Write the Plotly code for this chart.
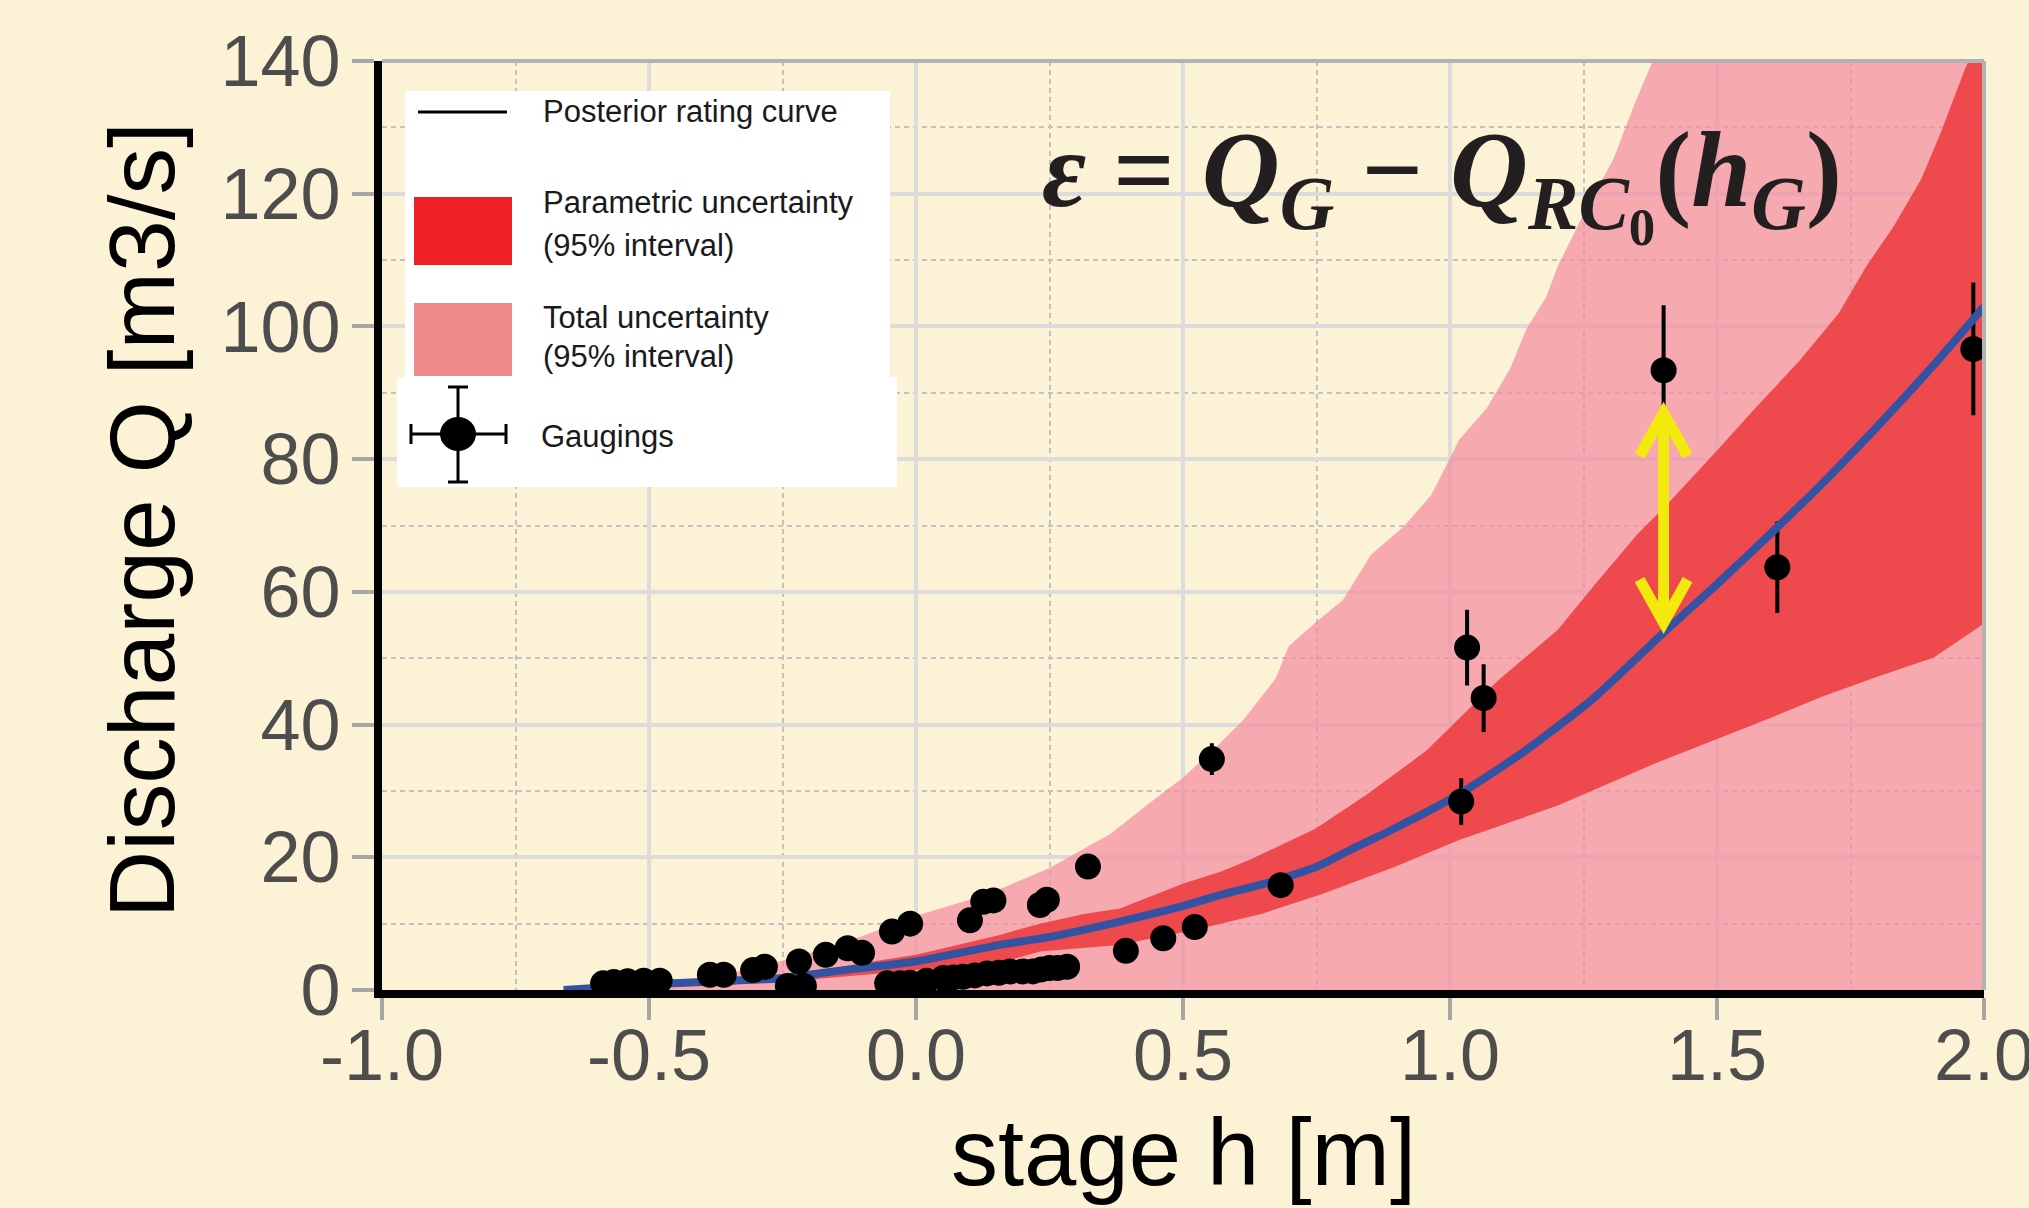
import plotly.graph_objects as go

# ---------------- data ----------------
# posterior rating curve
rc_h = [-0.66, -0.60, -0.466, -0.266, -0.105, 0.0, 0.157, 0.251, 0.382, 0.502, 0.569, 0.657,
        0.751, 0.813, 0.895, 1.017, 1.140, 1.262, 1.306, 1.402, 1.498, 1.572, 1.683, 1.794,
        1.906, 2.0]
rc_q = [0.0, 0.3, 1.0, 1.7, 3.3, 4.3, 6.8, 8.0, 10.3, 12.7, 14.3, 16.1,
        18.6, 21.1, 24.3, 29.5, 36.0, 43.5, 46.7, 54.0, 61.0, 66.6, 75.2, 84.4,
        94.2, 103.0]

# parametric uncertainty (95%) - upper / lower limits
par_up_h = [-0.45, -0.25, -0.105, 0.0, 0.157, 0.232, 0.317, 0.382, 0.502, 0.569, 0.624, 0.748,
            0.845, 0.955, 1.091, 1.202, 1.269, 1.350, 1.409, 1.498, 1.572, 1.654, 1.728, 1.780,
            1.831, 1.883, 1.920, 1.965, 2.0]
par_up_q = [0.9, 1.9, 4.0, 5.3, 8.3, 10.0, 11.5, 12.3, 16.1, 17.8, 19.6, 24.3,
            29.5, 36.0, 46.7, 54.3, 60.9, 68.6, 73.4, 81.1, 87.7, 94.8, 102.0, 109.1,
            115.1, 122.3, 129.4, 138.9, 145.0]
par_lo_h = [-0.45, -0.25, -0.105, 0.0, 0.157, 0.232, 0.379, 0.526, 0.648, 0.758, 0.895, 1.017,
            1.202, 1.386, 1.50, 1.60, 1.70, 1.80, 1.906, 1.994, 2.0]
par_lo_q = [0.5, 1.2, 2.3, 3.0, 4.1, 5.8, 6.8, 9.1, 11.5, 14.4, 18.5, 22.6,
            27.8, 34.2, 37.8, 41.0, 44.3, 47.2, 50.1, 54.9, 55.3]

# total uncertainty (95%) - upper limit (lower limit is 0)
tot_up_h = [-0.66, -0.55, -0.45, -0.35, -0.29, -0.21, -0.105, 0.0, 0.1, 0.157, 0.25, 0.313,
            0.364, 0.438, 0.50, 0.563, 0.613, 0.674, 0.698, 0.75, 0.80, 0.852, 0.913, 0.965,
            1.017, 1.069, 1.113, 1.143, 1.180, 1.202, 1.254, 1.306, 1.343, 1.380, 1.42, 2.0]
tot_up_q = [0.0, 0.5, 1.3, 2.5, 3.5, 5.3, 8.0, 11.2, 13.6, 15.2, 18.4, 21.2,
            23.5, 28.2, 32.0, 36.7, 40.7, 47.0, 51.8, 55.5, 58.8, 65.6, 69.8, 74.6,
            82.9, 87.7, 93.7, 99.6, 104.4, 109.1, 117.5, 125.2, 133.0, 140.1, 145.0, 145.0]

# gaugings
gaug_h = [-0.586, -0.566, -0.54, -0.51, -0.48, -0.386, -0.36, -0.305, -0.283, -0.24, -0.21,
          -0.219, -0.169, -0.128, -0.101, -0.045, -0.011, 0.101, 0.126, 0.145, 0.232, 0.245,
          0.322, -0.054, -0.03, -0.011, 0.02, 0.051, 0.07, 0.088, 0.11, 0.133, 0.155, 0.176,
          0.2, 0.219, 0.235, 0.25, 0.265, 0.283, 0.393, 0.463, 0.522, 0.554, 0.683, 1.021,
          1.032, 1.063, 1.400, 1.613, 1.980]
gaug_q = [1.0, 1.2, 1.3, 1.4, 1.4, 2.3, 2.3, 3.0, 3.5, 0.6, 0.6,
          4.3, 5.3, 6.3, 5.6, 8.8, 10.0, 10.5, 13.3, 13.5, 12.8, 13.6,
          18.6, 1.0, 1.0, 1.1, 1.4, 1.8, 1.9, 2.0, 2.2, 2.5, 2.6, 2.8,
          2.8, 2.8, 3.1, 3.3, 3.3, 3.5, 5.9, 7.8, 9.5, 34.8, 15.8, 28.4,
          51.6, 44.0, 93.4, 63.7, 96.6]
gaug_err = [0.1, 0.1, 0.1, 0.1, 0.1, 0.2, 0.2, 0.2, 0.3, 0.05, 0.05,
            0.3, 0.4, 0.4, 0.4, 0.6, 0.7, 0.7, 0.9, 0.9, 0.9, 1.0,
            1.3, 0.1, 0.1, 0.1, 0.1, 0.1, 0.1, 0.1, 0.2, 0.2, 0.2, 0.2,
            0.2, 0.2, 0.2, 0.2, 0.2, 0.2, 0.4, 0.5, 0.7, 2.1, 1.1, 3.2,
            5.4, 4.8, 9.5, 6.6, 9.7]

# residual arrow (gauging vs. rating curve)
arrow_h = 1.40
arrow_q_top = 87.7
arrow_q_bot = 54.6

x_ticks = [-1.0, -0.5, 0.0, 0.5, 1.0, 1.5, 2.0]
x_ticklabels = ["-1.0", "-0.5", "0.0", "0.5", "1.0", "1.5", "2.0"]
x_minor = [-0.75, -0.25, 0.25, 0.75, 1.25, 1.75]
y_ticks = [0, 20, 40, 60, 80, 100, 120, 140]
y_ticklabels = ["0", "20", "40", "60", "80", "100", "120", "140"]
y_minor = [10, 30, 50, 70, 90, 110, 130]

legend_labels = ["Posterior rating curve", "Parametric uncertainty", "(95% interval)",
                 "Total uncertainty", "(95% interval)", "Gaugings"]

# ---------------- layout constants ----------------
W, H = 2029, 1208
ML, MR, MT, MB = 382, 45, 61, 218
PW, PH = W - ML - MR, H - MT - MB
XR = [-1.0, 2.0]
YR = [0, 140]

BG = "#FCF2D5"
SANS = "Liberation Sans, Arial, sans-serif"


def px(x):  # pixel -> paper x
    return (x - ML) / PW


def py(y):  # pixel -> paper y
    return (H - MB - y) / PH


fig = go.Figure()

# total uncertainty band
fig.add_trace(go.Scatter(x=tot_up_h, y=tot_up_q, mode="lines", line=dict(width=0),
                         fill="tozeroy", fillcolor="rgba(243,138,157,0.7)",
                         hoverinfo="skip", showlegend=False))
# parametric uncertainty band
fig.add_trace(go.Scatter(x=par_up_h + par_lo_h[::-1], y=par_up_q + par_lo_q[::-1],
                         mode="lines", line=dict(width=0), fill="toself",
                         fillcolor="rgba(236,50,53,0.8)", hoverinfo="skip", showlegend=False))
# error bars of gaugings
fig.add_trace(go.Scatter(x=gaug_h, y=gaug_q, mode="markers",
                         marker=dict(size=4, color="black", opacity=0),
                         error_y=dict(type="data", array=gaug_err, visible=True,
                                      color="black", thickness=4, width=2),
                         showlegend=False, hoverinfo="skip"))
# rating curve
fig.add_trace(go.Scatter(x=rc_h, y=rc_q, mode="lines",
                         line=dict(color="#3353A2", width=8, shape="spline", smoothing=0.6),
                         showlegend=False))
# gauging points
fig.add_trace(go.Scatter(x=gaug_h, y=gaug_q, mode="markers",
                         marker=dict(size=26, color="black"), showlegend=False))

shapes = []
# yellow double arrow (in data coordinates)
ppx_h = PW / (XR[1] - XR[0])
ppx_q = PH / (YR[1] - YR[0])
adx = 24 / ppx_h
ady = 43 / ppx_q
yel = "#F4E90C"
aw = 11
tip_in = 5 / ppx_q
shapes.append(dict(type="line", xref="x", yref="y", x0=arrow_h, x1=arrow_h,
                   y0=arrow_q_bot + tip_in, y1=arrow_q_top - tip_in,
                   line=dict(color=yel, width=aw)))
t = arrow_q_top - tip_in
shapes.append(dict(type="path", xref="x", yref="y",
                   path=f"M{arrow_h - adx},{t - ady} L{arrow_h},{t} L{arrow_h + adx},{t - ady}",
                   line=dict(color=yel, width=aw)))
b = arrow_q_bot + tip_in
shapes.append(dict(type="path", xref="x", yref="y",
                   path=f"M{arrow_h - adx},{b + ady} L{arrow_h},{b} L{arrow_h + adx},{b + ady}",
                   line=dict(color=yel, width=aw)))

# top and right grey frame
shapes.append(dict(type="line", xref="paper", yref="paper", x0=0, x1=1, y0=1, y1=1,
                   line=dict(color="#B3B3B3", width=4)))
shapes.append(dict(type="line", xref="paper", yref="paper", x0=1, x1=1, y0=0, y1=1,
                   line=dict(color="#B3B3B3", width=4)))

# legend boxes
shapes.append(dict(type="rect", xref="paper", yref="paper", x0=px(405), x1=px(890),
                   y0=py(378), y1=py(91), fillcolor="white", line=dict(width=0)))
shapes.append(dict(type="rect", xref="paper", yref="paper", x0=px(397), x1=px(897),
                   y0=py(487), y1=py(377), fillcolor="white", line=dict(width=0)))
# legend: line
shapes.append(dict(type="line", xref="paper", yref="paper", x0=px(418), x1=px(507),
                   y0=py(112), y1=py(112), line=dict(color="black", width=3)))
# legend: parametric square
shapes.append(dict(type="rect", xref="paper", yref="paper", x0=px(414), x1=px(512),
                   y0=py(265), y1=py(197), fillcolor="#EE2024", line=dict(width=0)))
# legend: total square
shapes.append(dict(type="rect", xref="paper", yref="paper", x0=px(414), x1=px(512),
                   y0=py(376), y1=py(303), fillcolor="#F08A8A", line=dict(width=0)))
# legend: gauging symbol
cx, cy = 458, 434
shapes.append(dict(type="line", xref="paper", yref="paper", x0=px(411), x1=px(506),
                   y0=py(cy), y1=py(cy), line=dict(color="black", width=3)))
shapes.append(dict(type="line", xref="paper", yref="paper", x0=px(cx), x1=px(cx),
                   y0=py(387), y1=py(482), line=dict(color="black", width=3)))
for xx in (411, 506):
    shapes.append(dict(type="line", xref="paper", yref="paper", x0=px(xx), x1=px(xx),
                       y0=py(cy - 10), y1=py(cy + 10), line=dict(color="black", width=3)))
for yy in (387, 482):
    shapes.append(dict(type="line", xref="paper", yref="paper", x0=px(cx - 10), x1=px(cx + 10),
                       y0=py(yy), y1=py(yy), line=dict(color="black", width=3)))
shapes.append(dict(type="circle", xref="paper", yref="paper", x0=px(cx - 18), x1=px(cx + 18),
                   y0=py(cy + 17), y1=py(cy - 17), fillcolor="black", line=dict(width=0)))

annotations = []
leg_pos = [(541, 112), (541, 203), (541, 245), (541, 317), (541, 356), (539, 436)]
for txt, (lx, ly) in zip(legend_labels, leg_pos):
    annotations.append(dict(xref="paper", yref="paper", x=px(lx), y=py(ly), text=txt,
                            showarrow=False, xanchor="left", yanchor="middle",
                            font=dict(family=SANS, size=31, color="#1A1A1A")))

# equation
annotations.append(dict(
    xref="paper", yref="paper", x=px(1040), y=py(183), xanchor="left", yanchor="middle",
    showarrow=False,
    text="<b><i>ε</i> = <i>Q</i><sub><i>G</i></sub> − <i>Q</i><sub><i>RC</i><sub>0</sub></sub>"
         "(<i>h</i><sub><i>G</i></sub>)</b>",
    font=dict(family="Liberation Serif, DejaVu Serif, serif", size=108, color="#231F20")))

# axis titles
annotations.append(dict(xref="paper", yref="paper", x=0.5, y=py(1152), text="stage h [m]",
                        showarrow=False, xanchor="center", yanchor="middle",
                        font=dict(family=SANS, size=94, color="black")))
annotations.append(dict(xref="paper", yref="paper", x=px(142), y=py(520),
                        text="Discharge Q [m3/s]", textangle=-90,
                        showarrow=False, xanchor="center", yanchor="middle",
                        font=dict(family=SANS, size=93, color="black")))

axis_common = dict(
    showgrid=True, gridcolor="#DCDCDC", gridwidth=4,
    zeroline=False, showline=True, linecolor="black", linewidth=8,
    ticks="outside", ticklen=22, tickwidth=4, tickcolor="#A6A6A6",
    tickfont=dict(family=SANS, size=72, color="#4D4D4D"),
    layer="above traces", ticklabeloverflow="allow", automargin=False,
)

fig.update_layout(
    width=W, height=H, autosize=False,
    margin=dict(l=ML, r=MR, t=MT, b=MB, pad=0, autoexpand=False),
    paper_bgcolor=BG, plot_bgcolor=BG,
    showlegend=False,
    xaxis=dict(range=XR, tickmode="array", tickvals=x_ticks, ticktext=x_ticklabels,
               ticklabelstandoff=-26,
               minor=dict(tickmode="array", tickvals=x_minor, showgrid=True,
                          gridcolor="#C2C2C2", gridwidth=1.5, griddash="5px,4px", ticks=""),
               **axis_common),
    yaxis=dict(range=YR, tickmode="array", tickvals=y_ticks, ticktext=y_ticklabels,
               ticklabelstandoff=-3,
               minor=dict(tickmode="array", tickvals=y_minor, showgrid=True,
                          gridcolor="#C2C2C2", gridwidth=1.5, griddash="5px,4px", ticks=""),
               **axis_common),
    shapes=shapes,
    annotations=annotations,
)

# page chrome: no body margin, and keep the overflowing "2.0" tick label from widening the page
post_js = (
    "document.documentElement.style.margin='0';"
    "document.documentElement.style.overflow='hidden';"
    "document.body.style.margin='0';"
    "document.body.style.overflow='hidden';"
    "document.body.style.background='" + BG + "';"
    "var gd=document.getElementById('{plot_id}');"
    "gd.style.overflow='hidden';"
    "gd.querySelectorAll('svg').forEach(function(s){s.style.overflow='hidden';});"
)

fig.write_html("out.html",
               config={"displayModeBar": False, "responsive": False},
               post_script=post_js)
